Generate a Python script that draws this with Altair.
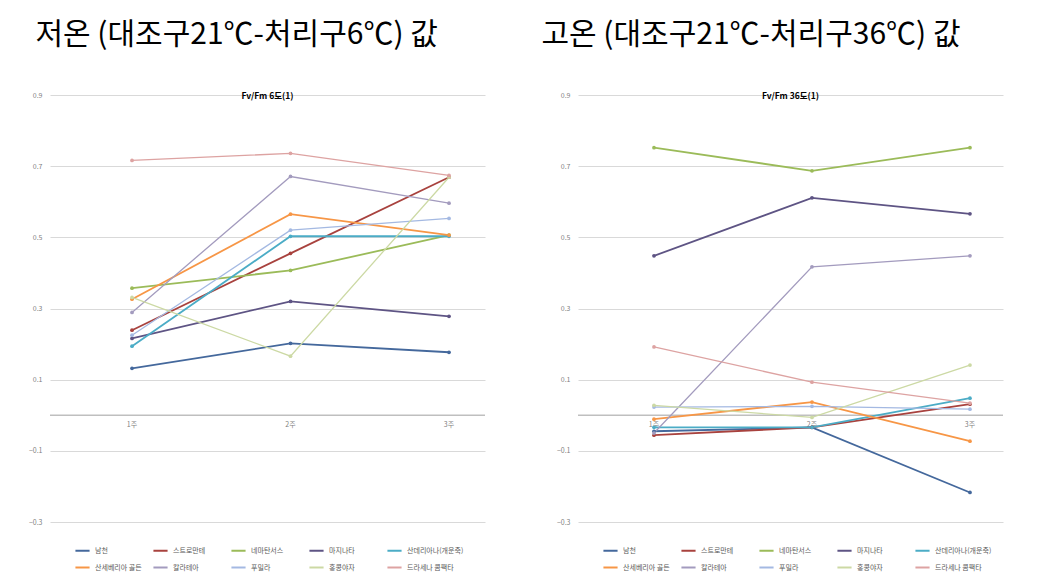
import altair as alt
import pandas as pd

FONT = "Noto Sans CJK KR"

weeks = [1, 2, 3]
week_labels = ["1주", "2주", "3주"]
series = ["남천", "스트로만테", "네마탄서스", "마지나타", "산데리아나(개운죽)",
          "산세베리아 골든", "칼라테아", "푸밀라", "홍콩야자", "드라세나 콤팩타"]
colors = ["#44689C", "#A8423E", "#9BBB59", "#5E5484", "#4BACC6",
          "#F79646", "#A39BBE", "#A4B9E2", "#CCD9A4", "#DDA3A2"]
line_widths = [1.8, 1.8, 1.8, 1.8, 1.8, 1.8, 1.3, 1.3, 1.3, 1.3]

# 저온 (대조구21℃-처리구6℃)
low_values = [
    [0.132, 0.202, 0.177],
    [0.239, 0.455, 0.669],
    [0.357, 0.407, 0.506],
    [0.216, 0.320, 0.278],
    [0.194, 0.503, 0.503],
    [0.326, 0.565, 0.506],
    [0.289, 0.671, 0.596],
    [0.225, 0.520, 0.553],
    [0.331, 0.166, 0.669],
    [0.716, 0.736, 0.674],
]

# 고온 (대조구21℃-처리구36℃)
high_values = [
    [-0.045, -0.034, -0.217],
    [-0.056, -0.034, 0.031],
    [0.752, 0.687, 0.752],
    [0.448, 0.611, 0.566],
    [-0.034, -0.034, 0.048],
    [-0.011, 0.037, -0.073],
    [-0.050, 0.417, 0.448],
    [0.023, 0.025, 0.017],
    [0.028, -0.006, 0.141],
    [0.192, 0.093, 0.034],
]

y_ticks = [-0.3, -0.1, 0.1, 0.3, 0.5, 0.7, 0.9]


def make_df(values):
    rows = []
    for s, vals, lw in zip(series, values, line_widths):
        for w, v in zip(weeks, vals):
            rows.append({"series": s, "week": w, "value": v, "lw": lw})
    return pd.DataFrame(rows)


def panel(values, big_title, small_title, xdom, width, title_dx):
    height = 427
    df = make_df(values)
    xs = alt.Scale(domain=xdom, nice=False, zero=False)
    ys = alt.Scale(domain=[-0.3, 0.9], nice=False, zero=False)
    x = alt.X("week:Q", scale=xs, axis=None)
    y = alt.Y("value:Q", scale=ys,
              axis=alt.Axis(values=y_ticks, format=".1f", grid=True,
                            gridColor="#D9D9D9", gridWidth=1, domain=False,
                            ticks=False, labelFontSize=7, labelColor="#7F7F7F",
                            labelPadding=8, title=None, labelFont=FONT))

    zero = alt.Chart(pd.DataFrame({"value": [0.0]})).mark_rule(
        color="#BFBFBF", strokeWidth=1.5).encode(y=alt.Y("value:Q", scale=ys))

    labels_df = pd.DataFrame({"week": weeks, "label": week_labels, "value": [0.0] * 3})
    cat_labels = alt.Chart(labels_df).mark_text(
        fontSize=7, color="#7F7F7F", dy=10, font=FONT).encode(
        x=x, y=alt.Y("value:Q", scale=ys), text="label:N")

    legend = alt.Legend(orient="none", legendX=24, legendY=447, columns=5,
                        direction="horizontal", symbolType="stroke",
                        symbolStrokeWidth=2, symbolSize=200, labelFontSize=7,
                        labelColor="#595959", title=None, gridAlign="all",
                        columnPadding=-4, rowPadding=4, labelLimit=60,
                        labelOffset=4, labelFont=FONT)
    color = alt.Color("series:N", scale=alt.Scale(domain=series, range=colors),
                      legend=legend)

    lines = alt.Chart(df).mark_line().encode(
        x=x, y=y, color=color,
        strokeWidth=alt.StrokeWidth("lw:Q", scale=None, legend=None),
        detail="series:N")
    points = alt.Chart(df).mark_point(filled=True, size=14, opacity=1).encode(
        x=x, y=alt.Y("value:Q", scale=ys),
        color=alt.Color("series:N", scale=alt.Scale(domain=series, range=colors),
                        legend=None))

    small = alt.Chart(pd.DataFrame({"t": [small_title]})).mark_text(
        fontSize=8.5, fontWeight="bold", font=FONT, color="#000000").encode(
        text="t:N", x=alt.value(width / 2), y=alt.value(1))

    return alt.layer(zero, cat_labels, lines, points, small).properties(
        width=width, height=height,
        title=alt.TitleParams(big_title, anchor="start", fontSize=30,
                              font=FONT, fontWeight="normal", color="#000000",
                              offset=41, dx=title_dx))


left = panel(low_values, "저온 (대조구21℃-처리구6℃) 값", "Fv/Fm 6도(1)",
             [0.4826, 3.227], 435, 7)
right = panel(high_values, "고온 (대조구21℃-처리구36℃) 값", "Fv/Fm 36도(1)",
              [0.519, 3.209], 425, -15)

chart = alt.hconcat(left, right, spacing=55).resolve_scale(
    color="independent").configure(
    padding={"left": 20, "top": 12, "right": 5, "bottom": 0},
    background="white").configure_view(stroke=None)

chart.save("out.html", embed_options={"renderer": "svg", "actions": False})
